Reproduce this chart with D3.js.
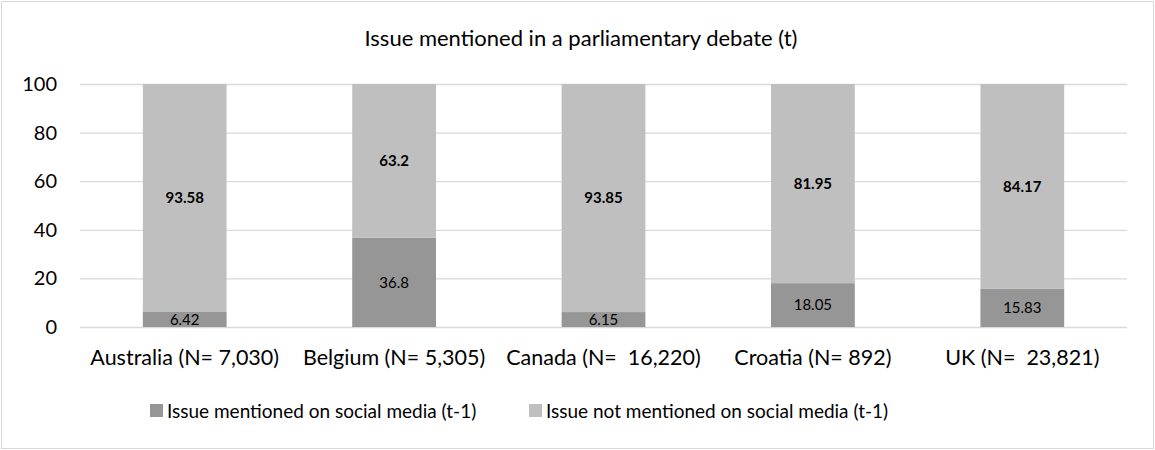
<!DOCTYPE html>
<html>
<head>
  <meta charset="utf-8">
  <style>
    body { margin: 0; background: #fff; }
    svg text { font-family: Lato, "Open Sans", sans-serif; fill: #000; white-space: pre; }
    .grid line { stroke: #d9d9d9; stroke-width: 1.3px; }
    .tick text { font-size: 20px; }
  </style>
</head>
<body>
<script src="https://d3js.org/d3.v7.min.js"></script>
<script>
  // data
  var countries = ["Australia (N= 7,030)", "Belgium (N= 5,305)", "Canada (N=  16,220)", "Croatia (N= 892)", "UK (N=  23,821)"];
  var mentioned = [6.42, 36.8, 6.15, 18.05, 15.83];
  var notMentioned = [93.58, 63.2, 93.85, 81.95, 84.17];
  var seriesNames = ["Issue mentioned on social media (t-1)", "Issue not mentioned on social media (t-1)"];
  var yTicks = [0, 20, 40, 60, 80, 100];

  var W = 1155, H = 450;
  var plotLeft = 80, plotRight = 1127, plotTop = 84, plotBottom = 327;
  var darkGrey = "#969696", lightGrey = "#bfbfbf";

  var svg = d3.select("body").append("svg")
      .attr("width", W)
      .attr("height", H);

  // chart border
  svg.append("rect")
      .attr("x", 1.5).attr("y", 1.5)
      .attr("width", W - 3).attr("height", H - 3)
      .attr("fill", "none")
      .attr("stroke", "#d9d9d9");

  var x = d3.scaleBand().domain(countries).range([plotLeft, plotRight]).paddingInner(0.6).paddingOuter(0.3);
  var y = d3.scaleLinear().domain([0, 100]).range([plotBottom, plotTop]);

  // title
  svg.append("text")
      .attr("x", 581)
      .attr("y", 46)
      .attr("text-anchor", "middle")
      .style("font-size", "22px")
      .text("Issue mentioned in a parliamentary debate (t)");

  // gridlines + y labels
  var yAxis = d3.axisLeft(y).tickValues(yTicks).tickSize(-(plotRight - plotLeft)).tickPadding(23);
  var ga = svg.append("g")
      .attr("class", "grid")
      .attr("transform", "translate(" + plotLeft + ",0)")
      .call(yAxis);
  ga.select(".domain").remove();

  // stacked bars
  var rows = countries.map(function(c, i) {
    return { country: c, mentioned: mentioned[i], notMentioned: notMentioned[i] };
  });
  var stack = d3.stack().keys(["mentioned", "notMentioned"]);
  var layers = stack(rows);
  var colors = [darkGrey, lightGrey];

  layers.forEach(function(layer, li) {
    svg.append("g").selectAll("rect")
      .data(layer)
      .join("rect")
        .attr("x", function(d) { return x(d.data.country); })
        .attr("width", x.bandwidth())
        .attr("y", function(d) { return y(d[1]); })
        .attr("height", function(d) { return y(d[0]) - y(d[1]); })
        .attr("fill", colors[li]);

    svg.append("g").selectAll("text")
      .data(layer)
      .join("text")
        .attr("x", function(d) { return x(d.data.country) + x.bandwidth() / 2; })
        .attr("y", function(d) { return y((d[0] + d[1]) / 2); })
        .attr("dy", "0.36em")
        .attr("text-anchor", "middle")
        .style("font-size", "15px")
        .style("font-weight", li === 1 ? "bold" : "normal")
        .text(function(d) { return d.data[layer.key]; });
  });

  // category labels
  svg.append("g").selectAll("text")
    .data(countries)
    .join("text")
      .attr("x", function(d) { return x(d) + x.bandwidth() / 2; })
      .attr("y", 365)
      .attr("text-anchor", "middle")
      .style("font-size", "21.5px")
      .text(function(d) { return d; });

  // legend
  var legendX = [150, 529];
  var lg = svg.append("g").selectAll("g")
    .data(seriesNames)
    .join("g")
      .attr("transform", function(d, i) { return "translate(" + legendX[i] + ",404)"; });
  lg.append("rect")
      .attr("width", 13).attr("height", 13)
      .attr("fill", function(d, i) { return colors[i]; });
  lg.append("text")
      .attr("x", 17)
      .attr("y", 14)
      .style("font-size", "19px")
      .text(function(d) { return d; });
</script>
</body>
</html>
